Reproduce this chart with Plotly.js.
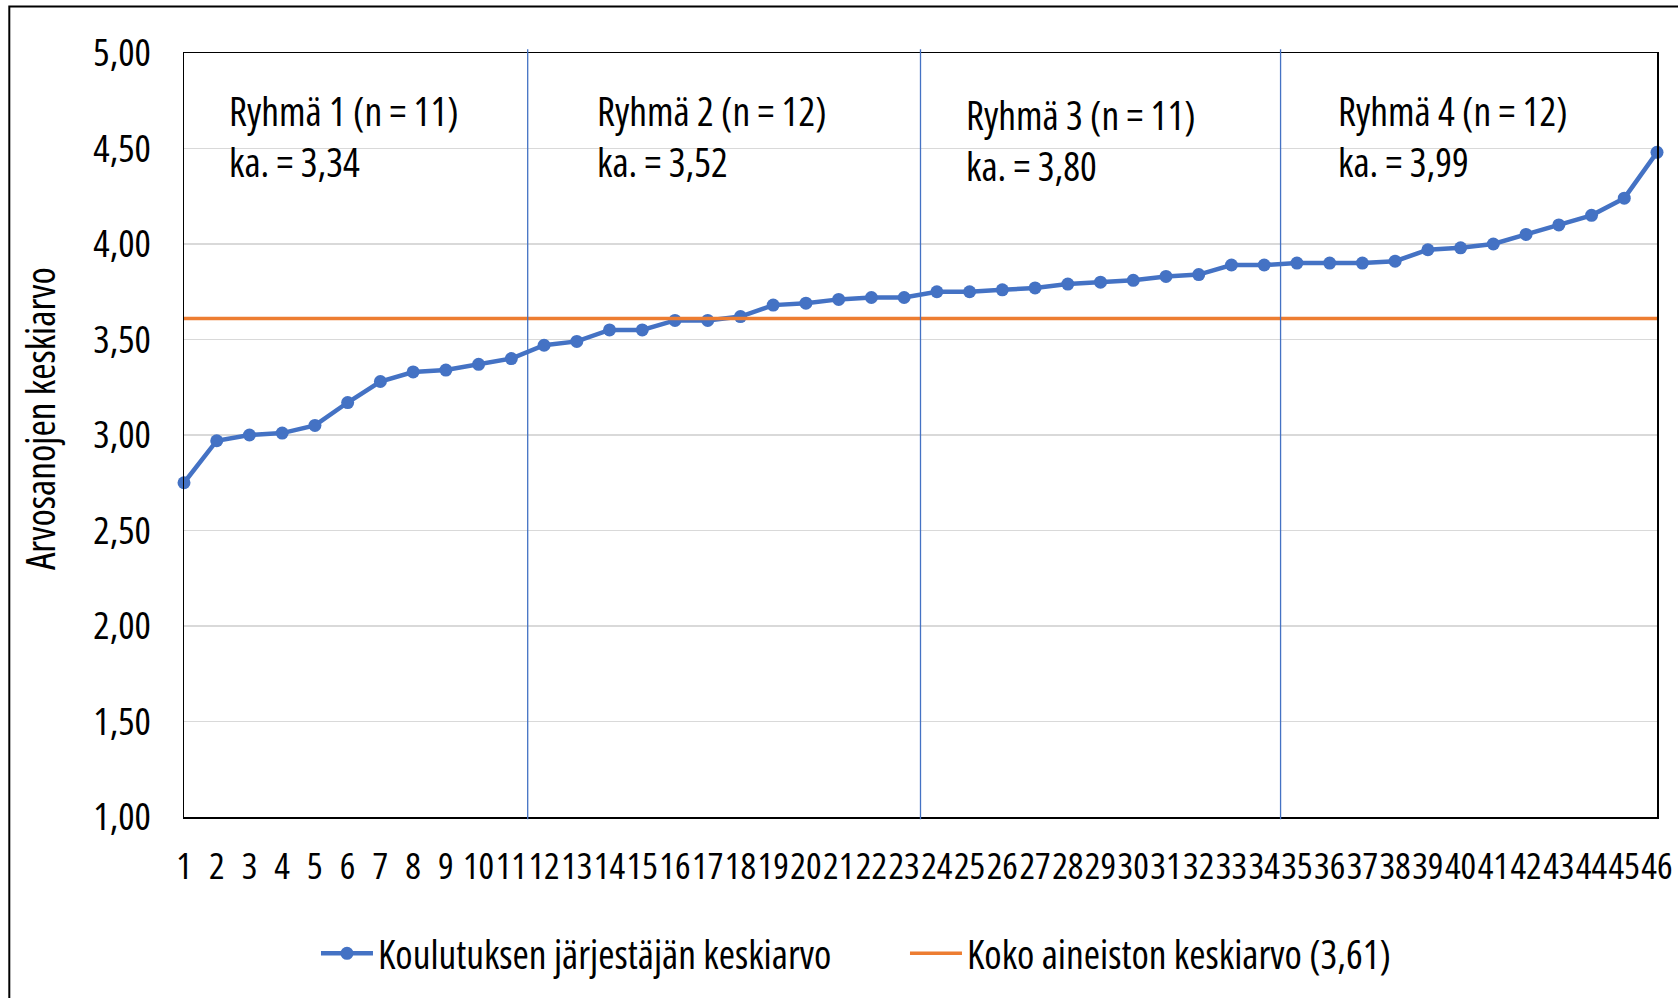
<!DOCTYPE html>
<html>
<head>
<meta charset="utf-8">
<script src="https://cdn.plot.ly/plotly-3.0.1.min.js"></script>
<style id="basestyle">
  html, body { margin: 0; padding: 0; background: #ffffff; }
  #chart { width: 1678px; height: 998px; }
</style>
</head>
<body>
<div id="chart"></div>
<script>
// ---- Data ----
const providers = Array.from({length: 46}, (_, i) => i + 1); // 1..46
const tickLabels = providers.map(String);
const providerMeans = [2.75, 2.97, 3.00, 3.01, 3.05, 3.17, 3.28, 3.33, 3.34, 3.37, 3.40,
                       3.47, 3.49, 3.55, 3.55, 3.60, 3.60, 3.62, 3.68, 3.69, 3.71, 3.72, 3.72,
                       3.75, 3.75, 3.76, 3.77, 3.79, 3.80, 3.81, 3.83, 3.84, 3.89, 3.89,
                       3.90, 3.90, 3.90, 3.91, 3.97, 3.98, 4.00, 4.05, 4.10, 4.15, 4.24, 4.48];
const overallMean = 3.61;
const groupNames = ["Ryhmä 1", "Ryhmä 2", "Ryhmä 3", "Ryhmä 4"];
const groupSizes = [11, 12, 11, 12];
const groupMeans = [3.34, 3.52, 3.80, 3.99];
const seriesNames = ["Koulutuksen järjestäjän keskiarvo", "Koko aineiston keskiarvo (3,61)"];
const yTitle = "Arvosanojen keskiarvo";
const yTicks = [1, 1.5, 2, 2.5, 3, 3.5, 4, 4.5, 5];

// ---- Font selection: prefer a condensed sans like Arial Narrow ----
const TARGET = 12.27; // em width of the legend text in the reference
function pickFont() {
  const span = document.createElement('span');
  span.style.position = 'absolute'; span.style.visibility = 'hidden';
  span.style.whiteSpace = 'nowrap'; span.style.fontSize = '100px';
  span.textContent = seriesNames[0];
  document.body.appendChild(span);
  const w = (fam, st) => { span.style.fontFamily = fam; span.style.fontStretch = st;
                           return span.getBoundingClientRect().width; };
  const mono = w('monospace', 'normal');
  const candidates = [
    {fam: "'Liberation Sans Narrow'", vary: false},
    {fam: "'Arial Narrow'", vary: false},
    {fam: "Roboto", vary: true},
    {fam: "'Open Sans'", vary: true},
    {fam: "'DejaVu Sans Condensed'", vary: false},
    {fam: "'Liberation Sans'", vary: false}
  ];
  let best = null;
  for (const c of candidates) {
    if (Math.abs(w(c.fam + ', monospace', 'normal') - mono) < 0.5) continue; // not installed
    const stretches = c.vary ? Array.from({length: 26}, (_, i) => (75 + i) + '%') : ['normal'];
    for (const st of stretches) {
      const ratio = w(c.fam + ', monospace', st) / 100;
      const score = Math.abs(ratio - TARGET);
      if (!best || score < best.score - 0.05) best = {fam: c.fam, st: st, ratio: ratio, score: score};
    }
  }
  document.body.removeChild(span);
  if (!best) best = {fam: "'Liberation Sans'", st: 'normal', ratio: 14.84};
  return best;
}
const chosen = pickFont();
const FONT = chosen.fam + ", 'Liberation Sans', Arial, sans-serif";
const scale = Math.max(0.8, Math.min(1.08, TARGET / chosen.ratio));
if (chosen.st !== 'normal') {
  const st = document.createElement('style');
  st.textContent = '#chart text { font-stretch: ' + chosen.st + ' !important; }';
  document.head.appendChild(st);
}
const S = v => Math.round(v * scale * 10) / 10;

// ---- Styling ----
const BLUE = "#4472C4";
const ORANGE = "#ED7D31";
const fmt = v => v.toFixed(2).replace('.', ',');

const traces = [
  {
    x: providers, y: providerMeans, name: seriesNames[0],
    type: 'scatter', mode: 'lines+markers',
    line: {color: BLUE, width: 4.5},
    marker: {color: BLUE, size: 13},
    cliponaxis: false
  },
  {
    x: providers, y: providers.map(() => overallMean), name: seriesNames[1],
    type: 'scatter', mode: 'lines',
    line: {color: ORANGE, width: 3.5},
    cliponaxis: false
  }
];

// group boundaries (between last of one group and first of next)
const shapes = [];
let cum = 0;
for (let g = 0; g < groupSizes.length - 1; g++) {
  cum += groupSizes[g];
  shapes.push({
    type: 'line', xref: 'x', yref: 'paper',
    x0: cum + 0.5, x1: cum + 0.5, y0: -0.003, y1: 1.005,
    line: {color: BLUE, width: 1.3}, layer: 'above'
  });
}
// outer chart frame (left + top edges visible)
shapes.push({
  type: 'rect', xref: 'paper', yref: 'paper',
  x0: -0.1186, x1: 1.2, y0: -0.4, y1: 1.0608,
  line: {color: '#000', width: 2}, layer: 'below'
});

const groupX = [0.0292, 0.2791, 0.5293, 0.7823];
const groupY = [0.8902, 0.8902, 0.8860, 0.8902];
const annotations = groupNames.map((g, i) => ({
  xref: 'paper', yref: 'paper', x: groupX[i], y: groupY[i],
  xanchor: 'left', yanchor: 'middle', align: 'left', showarrow: false,
  text: g + " (n = " + groupSizes[i] + ")<br>ka. = " + fmt(groupMeans[i]),
  font: {family: FONT, size: S(37), color: '#000'}
}));
annotations.push({
  xref: 'paper', yref: 'paper', x: -0.0973, y: 0.5217,
  xanchor: 'center', yanchor: 'middle', textangle: -90, showarrow: false,
  text: yTitle, font: {family: FONT, size: S(37), color: '#000'}
});

const layout = {
  width: 1678, height: 998,
  paper_bgcolor: '#ffffff', plot_bgcolor: '#ffffff',
  margin: {l: 184, r: 21, t: 53, b: 177, pad: 0},
  separators: ', ',
  font: {family: FONT, size: S(36), color: '#000'},
  showlegend: true,
  legend: {
    orientation: 'h', x: 0.0896, xanchor: 'left', y: -0.179, yanchor: 'middle',
    font: {family: FONT, size: S(37), color: '#000'},
    itemwidth: 52, entrywidth: 522, entrywidthmode: 'pixels',
    bgcolor: 'rgba(0,0,0,0)'
  },
  xaxis: {
    range: [1, 46], tickmode: 'array', tickvals: providers, ticktext: tickLabels,
    tickangle: 0, showgrid: false, zeroline: false,
    showline: true, mirror: true, linecolor: '#000', linewidth: 1.5,
    ticks: '', ticklabelstandoff: 16, ticklabeloverflow: 'allow',
    tickfont: {family: FONT, size: S(34.5), color: '#000'}
  },
  yaxis: {
    range: [1, 5], tickmode: 'array', tickvals: yTicks,
    tickformat: '.2f', showgrid: true, gridcolor: '#D9D9D9', gridwidth: 1.5,
    zeroline: false, showline: true, mirror: true, linecolor: '#000', linewidth: 1.5,
    ticks: '', ticklabelstandoff: 24,
    tickfont: {family: FONT, size: S(36), color: '#000'}
  },
  shapes: shapes,
  annotations: annotations
};

Plotly.newPlot('chart', traces, layout, {displayModeBar: false, staticPlot: true});
</script>
</body>
</html>
